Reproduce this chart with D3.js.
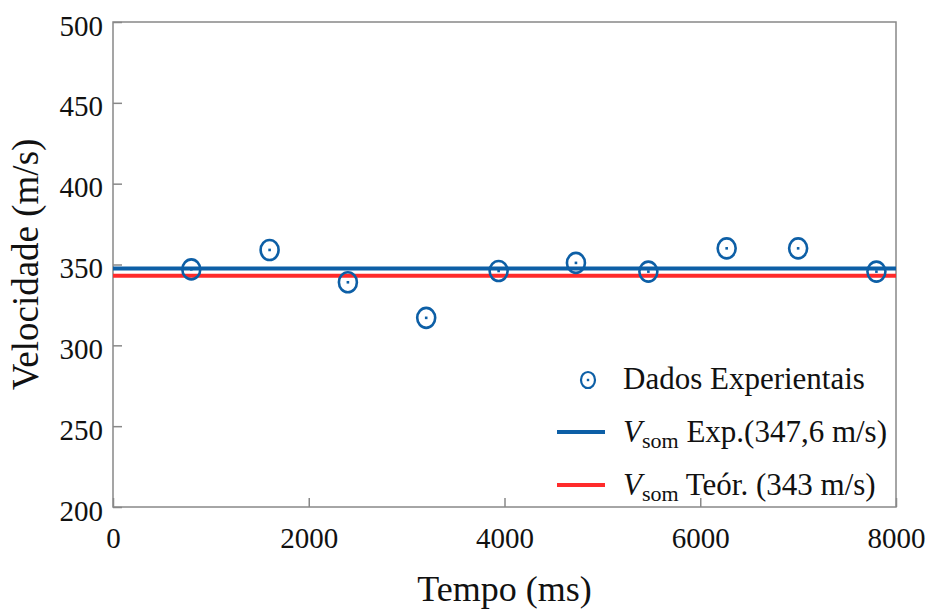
<!DOCTYPE html>
<html>
<head>
<meta charset="utf-8">
<script src="https://cdn.jsdelivr.net/npm/d3@7"></script>
<style>
  body { margin: 0; background: #fff; }
  svg text { font-family: "Liberation Serif", "Times New Roman", serif; fill: #111; }
</style>
</head>
<body>
<div id="chart"></div>
<script>
// data
const tempos = [800, 1600, 2400, 3200, 3940, 4730, 5470, 6270, 7000, 7800];
const velocidades = [347, 359, 339, 317, 346, 351, 345.6, 360, 360, 345.6];
const vExp = 347.6;
const vTeor = 343;
const xTicks = [0, 2000, 4000, 6000, 8000];
const yTicks = [200, 250, 300, 350, 400, 450, 500];

const width = 930, height = 609;
const margin = { top: 22, right: 34, bottom: 102, left: 113 };
const blue = "#0d5fa6", red = "#ff2b2b", frame = "#888";

const svg = d3.select("#chart").append("svg")
  .attr("width", width).attr("height", height);

const x = d3.scaleLinear().domain([0, 8000]).range([margin.left, width - margin.right]);
const y = d3.scaleLinear().domain([200, 500]).range([height - margin.bottom, margin.top]);

// axes (inward ticks)
const xAxis = svg.append("g")
  .attr("transform", `translate(0,${y(200)})`)
  .call(d3.axisBottom(x).tickValues(xTicks).tickFormat(d3.format("d"))
    .tickSizeInner(-9).tickSizeOuter(0).tickPadding(20));
const yAxis = svg.append("g")
  .attr("transform", `translate(${x(0)},0)`)
  .call(d3.axisLeft(y).tickValues(yTicks).tickFormat(d3.format("d"))
    .tickSizeInner(-9).tickSizeOuter(0).tickPadding(10));

[xAxis, yAxis].forEach(g => {
  g.attr("font-family", null).attr("font-size", null);
  g.select(".domain").remove();
  g.selectAll(".tick line").attr("stroke", frame).attr("stroke-width", 1.5);
  g.selectAll(".tick text").attr("font-size", 29).attr("fill", "#111");
});
xAxis.selectAll(".tick text").attr("dy", "0.71em");
yAxis.selectAll(".tick text").attr("dy", "0.45em");

// frame
svg.append("rect")
  .attr("x", x(0)).attr("y", y(500))
  .attr("width", x(8000) - x(0)).attr("height", y(200) - y(500))
  .attr("fill", "none").attr("stroke", frame).attr("stroke-width", 1.5);

// reference lines
svg.append("line")
  .attr("x1", x(0)).attr("x2", x(8000))
  .attr("y1", y(vExp)).attr("y2", y(vExp))
  .attr("stroke", blue).attr("stroke-width", 4);
svg.append("line")
  .attr("x1", x(0)).attr("x2", x(8000))
  .attr("y1", y(vTeor)).attr("y2", y(vTeor))
  .attr("stroke", red).attr("stroke-width", 4);

// data markers: circle with a dot
function marker(g) {
  g.append("ellipse").attr("rx", 9).attr("ry", 10)
    .attr("fill", "none").attr("stroke", blue).attr("stroke-width", 2.6);
  g.append("rect").attr("x", -1.3).attr("y", -1.3).attr("width", 2.6).attr("height", 2.6)
    .attr("fill", blue);
}

const pts = tempos.map((t, i) => ({ t, v: velocidades[i] }));
svg.selectAll("g.pt").data(pts).join("g")
  .attr("class", "pt")
  .attr("transform", d => `translate(${x(d.t)},${y(d.v)})`)
  .each(function () { marker(d3.select(this)); });

// legend
const legend = svg.append("g");
const lx = 623;
const m = legend.append("g").attr("transform", "translate(588,380)");
m.append("ellipse").attr("rx", 7).attr("ry", 8).attr("fill", "none").attr("stroke", blue).attr("stroke-width", 2.2);
m.append("rect").attr("x", -1.2).attr("y", -1.2).attr("width", 2.4).attr("height", 2.4).attr("fill", blue);
legend.append("text").attr("x", lx).attr("y", 389).attr("font-size", 31).text("Dados Experientais");

const rows = [
  { cy: 432, color: blue, rest: " Exp.(347,6 m/s)" },
  { cy: 485, color: red, rest: " Teór. (343 m/s)" }
];
rows.forEach(r => {
  legend.append("line").attr("x1", 557).attr("x2", 605)
    .attr("y1", r.cy).attr("y2", r.cy)
    .attr("stroke", r.color).attr("stroke-width", 4);
  const t = legend.append("text").attr("x", lx).attr("y", r.cy + 10).attr("font-size", 31);
  t.append("tspan").attr("font-style", "italic").text("V");
  t.append("tspan").attr("font-size", 22).attr("dy", 6).text("som");
  t.append("tspan").attr("dy", -6).text(r.rest);
});

// axis titles
svg.append("text")
  .attr("x", (x(0) + x(8000)) / 2).attr("y", 601)
  .attr("text-anchor", "middle").attr("font-size", 36)
  .text("Tempo (ms)");
svg.append("text")
  .attr("transform", `translate(38,${(y(200) + y(500)) / 2}) rotate(-90)`)
  .attr("text-anchor", "middle").attr("font-size", 37)
  .text("Velocidade (m/s)");
</script>
</body>
</html>
